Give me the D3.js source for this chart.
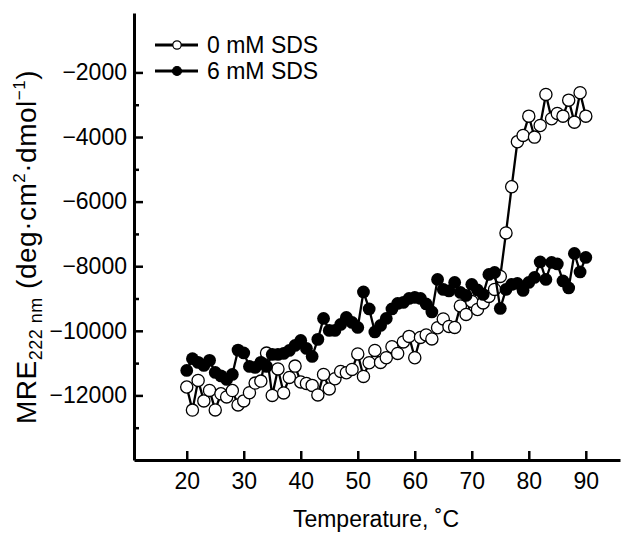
<!DOCTYPE html>
<html><head><meta charset="utf-8">
<script src="https://cdn.jsdelivr.net/npm/d3@7"></script>
<style>body{margin:0;background:#fff}svg{display:block}text{font-family:"Liberation Sans",Arial,sans-serif;fill:#000}</style>
</head><body><svg id="c" width="635" height="533"></svg>
<script>
const temps = d3.range(20, 91);
const sds0 = [-11740,-12455,-11536,-12170,-11845,-12449,-11950,-12047,-11850,-12294,
-12170,-11916,-11619,-11557,-10690,-12000,-11180,-11923,-11443,-11093,
-11582,-11629,-11690,-11985,-11350,-11799,-11483,-11257,-11297,-11195,
-10715,-11412,-10988,-10607,-10978,-10833,-10492,-10700,-10344,-10173,
-10833,-10204,-10127,-10251,-9904,-9632,-9864,-9895,-9229,-9492,
-9090,-9338,-9136,-8935,-8718,-8316,-6969,-5539,-4146,-3950,
-3353,-4003,-3641,-2681,-3433,-3269,-3353,-2858,-3539,-2628,-3353];
const sds6 = [-11226,-10864,-10978,-11071,-10916,-11288,-11396,-11505,-11350,-10598,
-10684,-11102,-11133,-10978,-11102,-10731,-10731,-10700,-10607,-10452,
-10297,-10545,-10793,-10266,-9616,-9988,-9988,-9802,-9585,-9740,
-9895,-8796,-9322,-10034,-9833,-9616,-9322,-9152,-9121,-8997,
-8966,-8997,-9167,-9415,-8409,-8718,-8765,-8502,-8811,-8904,
-8564,-8734,-8873,-8254,-8192,-9307,-8718,-8564,-8533,-8749,
-8502,-8347,-7867,-8409,-7882,-7929,-8455,-8672,-7604,-8177,-7728];
const xTicks = [20,30,40,50,60,70,80,90];
const yTicks = [-2000,-4000,-6000,-8000,-10000,-12000];
const yMinor = [-3000,-5000,-7000,-9000,-11000,-13000];
const seriesNames = ["0 mM SDS","6 mM SDS"];

const svg = d3.select("#c");
const x = d3.scaleLinear().domain([10.75, 96]).range([134, 620]);
const y = d3.scaleLinear().domain([-14000, -160]).range([460, 13]);
const FS = 23;

// axes
const gx = svg.append("g").attr("transform","translate(0,460)")
  .call(d3.axisBottom(x).tickValues(xTicks).tickSizeInner(-9).tickSizeOuter(0).tickPadding(13).tickFormat(d3.format("d")));
const gy = svg.append("g").attr("transform","translate(134,0)")
  .call(d3.axisLeft(y).tickValues(yTicks).tickSizeInner(-9).tickSizeOuter(0).tickPadding(7).tickFormat(d => "\u2212" + Math.abs(d)));
svg.append("g").attr("transform","translate(134,0)")
  .call(d3.axisLeft(y).tickValues(yMinor).tickSizeInner(-5).tickSizeOuter(0).tickFormat(""))
  .select(".domain").remove();
svg.selectAll(".domain").attr("stroke","#000").attr("stroke-width",3);
svg.selectAll(".tick line").attr("stroke","#000").attr("stroke-width",2.5);
svg.selectAll(".tick text").attr("font-size",FS).attr("font-family","Liberation Sans, Arial, sans-serif");
gx.selectAll(".tick text").attr("dy","0.71em");

// axis titles
svg.append("text").attr("x",376).attr("y",527).attr("text-anchor","middle").attr("font-size",FS).text("Temperature, \u02DAC");
const yl = svg.append("text").attr("transform","translate(36,247) rotate(-90)").attr("text-anchor","middle").attr("font-size",28).attr("letter-spacing",0.5);
yl.append("tspan").text("MRE");
yl.append("tspan").attr("font-size",18).attr("dy",6).text("222 nm");
yl.append("tspan").attr("dy",-6).text(" (deg\u00B7cm");
yl.append("tspan").attr("font-size",17).attr("dy",-11).text("2");
yl.append("tspan").attr("dy",11).text("\u00B7dmol");
yl.append("tspan").attr("font-size",17).attr("dy",-11).text("\u22121");
yl.append("tspan").attr("dy",11).text(")");

// data
const line = d3.line().x((d,i)=>x(temps[i])).y(d=>y(d));
function drawSeries(vals, filled){
  svg.append("path").datum(vals).attr("d",line).attr("fill","none").attr("stroke","#000").attr("stroke-width",2.3);
  svg.append("g").selectAll("circle").data(vals).join("circle")
    .attr("cx",(d,i)=>x(temps[i])).attr("cy",d=>y(d)).attr("r",filled?6.4:6.1)
    .attr("fill",filled?"#000":"#fff").attr("stroke","#000").attr("stroke-width",filled?0:1.3);
}
drawSeries(sds0,false);
drawSeries(sds6,true);

// legend
const leg = svg.append("g");
seriesNames.forEach((n,i)=>{
  const ly = 45 + i*26;
  leg.append("line").attr("x1",155).attr("x2",198).attr("y1",ly).attr("y2",ly).attr("stroke","#000").attr("stroke-width",3);
  leg.append("circle").attr("cx",177).attr("cy",ly).attr("r",i?4.5:4.2).attr("fill",i?"#000":"#fff").attr("stroke","#000").attr("stroke-width",1.2);
  leg.append("text").attr("x",207).attr("y",ly).attr("dy","0.36em").attr("font-size",FS).text(n);
});
</script></body></html>
